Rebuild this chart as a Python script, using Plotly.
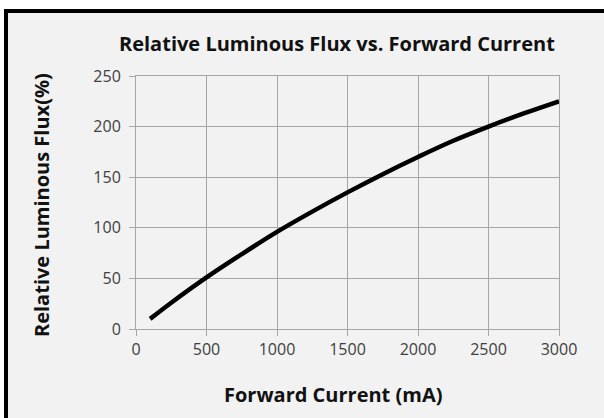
import plotly.graph_objects as go

current_ma = [100, 250, 500, 750, 1000, 1250, 1500, 1750, 2000, 2250, 2500, 2750, 3000]
rel_flux = [10, 26, 51, 74, 96, 116, 135, 153, 170, 186, 200, 213, 225]
x_ticks = [0, 500, 1000, 1500, 2000, 2500, 3000]
y_ticks = [0, 50, 100, 150, 200, 250]

W, H = 604, 418
L, R, T, B = 136, 45, 76, 89
pw, ph = W - L - R, H - T - B

def px(x):
    return (x - L) / pw

def py(y):
    return (H - B - y) / ph

FONT = "Open Sans"
GRID = "#a6a6a6"

fig = go.Figure()
fig.add_trace(go.Scatter(
    x=current_ma, y=rel_flux, mode="lines",
    line=dict(color="black", width=4.5, shape="spline"),
    hoverinfo="skip", showlegend=False,
))

axis_common = dict(
    showgrid=True, gridcolor=GRID, gridwidth=1,
    showline=True, linecolor=GRID, linewidth=1, mirror=True,
    ticks="outside", ticklen=6, tickcolor=GRID, tickwidth=1,
    zeroline=False,
    tickfont=dict(family=FONT, size=16, color="#404040"),
)

fig.update_xaxes(range=[0, 3000], tickvals=x_ticks, **axis_common)
fig.update_yaxes(range=[0, 250], tickvals=y_ticks, ticklabelstandoff=5, **axis_common)

annotations = [
    dict(text="<b>Relative Luminous Flux vs. Forward Current</b>", x=px(337), y=py(43),
         font=dict(family=FONT, size=20, color="#111111")),
    dict(text="<b>Forward Current (mA)</b>", x=px(333), y=py(394),
         font=dict(family=FONT, size=20, color="#111111")),
    dict(text="<b>Relative Luminous Flux(%)</b>", x=px(42), y=py(205), textangle=-90,
         font=dict(family=FONT, size=20, color="#111111")),
]
for a in annotations:
    a.update(xref="paper", yref="paper", showarrow=False, xanchor="center", yanchor="middle")

shapes = [
    # white page strip above and left of the frame
    dict(type="rect", xref="paper", yref="paper", x0=px(0), x1=px(W), y0=py(9), y1=py(0),
         fillcolor="white", line=dict(width=0), layer="below"),
    dict(type="rect", xref="paper", yref="paper", x0=px(0), x1=px(4), y0=py(H), y1=py(9),
         fillcolor="white", line=dict(width=0), layer="below"),
    # black frame: top and left edges
    dict(type="line", xref="paper", yref="paper", x0=px(4), x1=px(W), y0=py(11), y1=py(11),
         line=dict(color="black", width=4), layer="below"),
    dict(type="line", xref="paper", yref="paper", x0=px(6), x1=px(6), y0=py(9), y1=py(H),
         line=dict(color="black", width=4), layer="below"),
]

fig.update_layout(
    width=W, height=H,
    margin=dict(l=L, r=R, t=T, b=B, pad=0),
    paper_bgcolor="#f2f2f2", plot_bgcolor="#f2f2f2",
    annotations=annotations, shapes=shapes,
    showlegend=False,
)

fig.write_html(
    "out.html",
    config={"displayModeBar": False},
    post_script="document.body.style.margin='0';document.body.style.overflow='hidden';",
)
